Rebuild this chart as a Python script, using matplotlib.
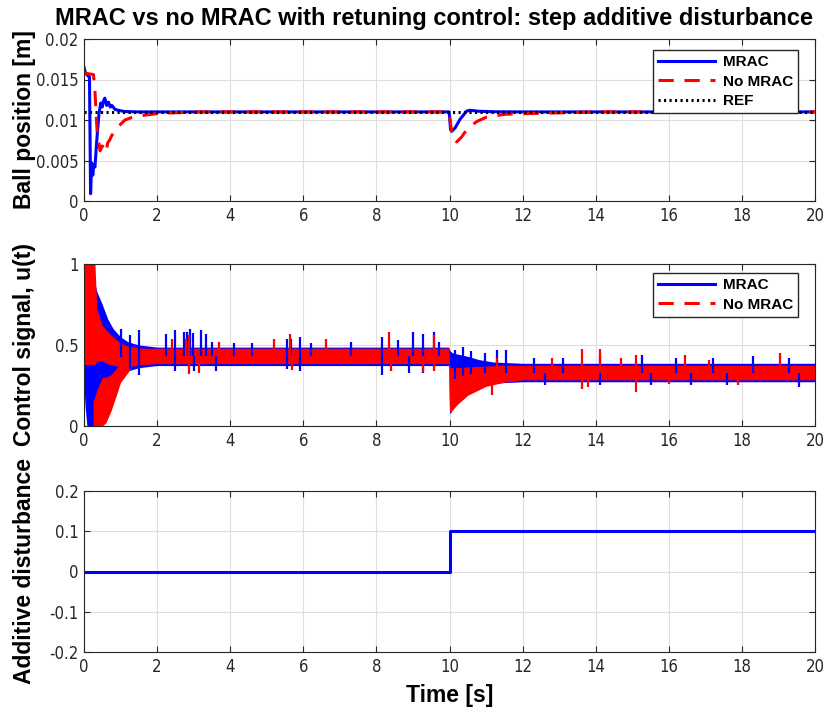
import numpy as np
import matplotlib
matplotlib.use('Agg')
import matplotlib.pyplot as plt
from matplotlib.lines import Line2D
from matplotlib import font_manager
from matplotlib.font_manager import FontProperties

# --- fonts: Arial-like for labels, a condensed face for tick numbers if we have one
installed = {f.name for f in font_manager.fontManager.ttflist}
BOLD_FAMILY = 'Liberation Sans' if 'Liberation Sans' in installed else 'DejaVu Sans'
plt.rcParams['font.family'] = [BOLD_FAMILY, 'DejaVu Sans']

narrow_files = [f.fname for f in font_manager.fontManager.ttflist
                if 'LiberationSansNarrow-Regular' in f.fname]
if not narrow_files:
    narrow_files = [f.fname for f in font_manager.fontManager.ttflist
                    if f.fname.endswith('DejaVuSansCondensed.ttf')]
TICK_FONT = (FontProperties(fname=narrow_files[0], size=12) if narrow_files
             else FontProperties(family=BOLD_FAMILY, size=11.5))

BLUE = '#0000ff'
RED = '#ff0000'
INK = '#262626'
GRID = '#dedede'

# ---------------- data: ball position [m]
t_pos_mrac = [0, 0.04, 0.12, 0.15, 0.18, 0.21, 0.24, 0.27, 0.3, 0.35, 0.41, 0.46, 0.5, 0.53,
              0.57, 0.62, 0.67, 0.72, 0.76, 0.85, 0.94, 1.1, 1.5, 9.99, 10.03, 10.06, 10.15,
              10.29, 10.47, 10.56, 10.8, 11.2, 12.0, 20.0]
pos_mrac = [0.0165, 0.0158, 0.0154, 0.0153, 0.0009, 0.0047, 0.0032, 0.0045, 0.0042, 0.0075,
            0.0108, 0.0121, 0.0116, 0.0123, 0.0127, 0.0118, 0.0122, 0.0116, 0.0118, 0.0113,
            0.0112, 0.01105, 0.011, 0.011, 0.0088, 0.0086, 0.009, 0.0101, 0.0111, 0.0112,
            0.01108, 0.01102, 0.011, 0.011]

t_pos_nomrac = [0, 0.26, 0.3, 0.36, 0.44, 0.5, 0.55, 0.6, 0.65, 0.7, 0.76, 0.85, 0.94, 1.12,
                1.3, 1.67, 2.03, 2.5, 3.2, 9.99, 10.08, 10.2, 10.33, 10.47, 10.74, 11.0, 11.5,
                12.2, 13.1, 14.0, 20.0]
pos_nomrac = [0.0158, 0.0156, 0.0135, 0.0085, 0.0062, 0.0068, 0.0063, 0.006, 0.0072, 0.0075,
              0.0081, 0.0086, 0.0092, 0.01, 0.0103, 0.0106, 0.0108, 0.0109, 0.011, 0.011,
              0.0077, 0.0073, 0.0079, 0.0088, 0.0098, 0.01033, 0.0107, 0.0108, 0.0109, 0.011,
              0.011]

t_ref = [0, 20]
pos_ref = [0.011, 0.011]

# ---------------- data: control signal u(t), dense noisy band read as envelopes
t_band_mrac = [0, 0.03, 0.08, 0.15, 0.3, 0.35, 0.5, 0.65, 0.8, 1.0, 1.2, 1.5, 2.0, 9.98,
               10.0, 10.03, 10.1, 10.3, 10.5, 10.8, 11.2, 12.0, 20.0]
lo_mrac = [0.25, 0.12, 0.0, 0.0, 0.0, 0.0, 0.07, 0.15, 0.25, 0.3, 0.34, 0.36, 0.373, 0.373,
           0.08, 0.08, 0.12, 0.17, 0.21, 0.24, 0.265, 0.273, 0.273]
hi_mrac = [0.45, 0.6, 0.85, 0.9, 0.88, 0.83, 0.75, 0.66, 0.6, 0.55, 0.52, 0.5, 0.487, 0.487,
           0.47, 0.46, 0.45, 0.44, 0.43, 0.41, 0.395, 0.387, 0.387]

t_band_nomrac = [0, 0.3, 0.35, 0.5, 0.7, 0.9, 1.1, 1.3, 1.6, 2.0, 9.98, 10.0, 10.05, 10.2,
                 10.5, 11.0, 11.5, 12.0, 20.0]
lo_nomrac = [0.38, 0.38, 0.4, 0.4, 0.38, 0.37, 0.36, 0.37, 0.38, 0.385, 0.385, 0.09, 0.09,
             0.13, 0.19, 0.245, 0.27, 0.285, 0.285]
hi_nomrac = [1.0, 1.0, 0.72, 0.62, 0.57, 0.53, 0.5, 0.49, 0.48, 0.48, 0.48, 0.37, 0.36, 0.36,
             0.365, 0.37, 0.375, 0.375, 0.375]

# lower lobe of the No MRAC start-up oscillation
t_lobe_nomrac = [0.25, 0.35, 0.5, 0.6, 0.75, 0.9, 1.0, 1.2, 1.3]
lo_lobe_nomrac = [0.0, 0.0, 0.0, 0.02, 0.1, 0.2, 0.27, 0.33, 0.36]
hi_lobe_nomrac = [0.15, 0.22, 0.3, 0.3, 0.32, 0.36, 0.38, 0.4, 0.41]

# isolated spikes sticking out of the band
spk_up_mrac_t = [1.0, 1.26, 1.5, 2.25, 2.5, 2.74, 2.81, 2.9, 2.97, 3.21, 3.35, 3.5, 4.1, 4.6,
                 5.56, 5.66, 5.91, 6.2, 7.3, 8.15, 8.6, 8.99, 9.28, 9.58, 9.7, 10.15, 10.38,
                 10.59, 10.97, 11.31, 11.55, 12.3, 13.1, 14.12, 15.26, 16.2, 17.2, 18.3, 19.3]
spk_up_mrac_v = [0.6, 0.56, 0.59, 0.57, 0.59, 0.58, 0.58, 0.6, 0.575, 0.59, 0.565, 0.52, 0.51,
                 0.51, 0.54, 0.54, 0.55, 0.51, 0.52, 0.55, 0.53, 0.58, 0.57, 0.58, 0.52, 0.47,
                 0.49, 0.46, 0.45, 0.47, 0.47, 0.42, 0.42, 0.44, 0.44, 0.42, 0.42, 0.43, 0.42]
spk_dn_mrac_t = [1.26, 1.5, 2.5, 3.0, 3.6, 5.56, 5.91, 8.16, 8.9, 9.27, 12.6, 14.12, 15.5,
                 16.6, 17.6, 19.57]
spk_dn_mrac_v = [0.35, 0.315, 0.34, 0.34, 0.34, 0.35, 0.34, 0.317, 0.33, 0.33, 0.25, 0.253,
                 0.25, 0.25, 0.255, 0.243]

spk_up_nomrac_t = [2.4, 2.78, 2.88, 3.7, 5.21, 5.64, 6.63, 8.35, 9.58, 11.3, 12.8, 13.62,
                   14.12, 14.7, 15.1, 16.44, 17.1, 19.04]
spk_up_nomrac_v = [0.54, 0.54, 0.56, 0.52, 0.54, 0.57, 0.54, 0.58, 0.56, 0.42, 0.42, 0.475,
                   0.475, 0.42, 0.44, 0.44, 0.41, 0.45]
spk_dn_nomrac_t = [2.88, 3.15, 5.7, 8.4, 9.27, 9.58, 11.15, 13.62, 13.8, 15.1, 16.0, 17.9]
spk_dn_nomrac_v = [0.32, 0.325, 0.345, 0.34, 0.335, 0.34, 0.19, 0.23, 0.24, 0.21, 0.26, 0.25]

# ---------------- data: disturbance step
t_dist = [0, 10, 20]
dist = [0, 0.1, 0.1]

x_ticks = list(range(0, 21, 2))

fig = plt.figure(figsize=(8.26, 7.09), dpi=100)
L, W = 84 / 826, 731 / 826
ax1 = fig.add_axes([L, 1 - 201 / 709, W, 162 / 709])
ax2 = fig.add_axes([L, 1 - 426 / 709, W, 162 / 709])
ax3 = fig.add_axes([L, 1 - 652 / 709, W, 161 / 709])


def style(ax, yticks, ylabels):
    ax.set_xlim(0, 20)
    ax.set_xticks(x_ticks)
    ax.set_xticklabels([str(v) for v in x_ticks])
    ax.set_yticks(yticks)
    ax.set_yticklabels(ylabels)
    ax.set_ylim(yticks[0], yticks[-1])
    ax.grid(True, color=GRID, lw=0.8)
    ax.set_axisbelow(True)
    for s in ax.spines.values():
        s.set_color(INK)
        s.set_linewidth(0.8)
    ax.tick_params(direction='in', top=True, right=True, length=4, width=0.8,
                   color=INK, labelcolor=INK, pad=4)
    for lab in ax.get_xticklabels() + ax.get_yticklabels():
        lab.set_fontproperties(TICK_FONT)
    ax.yaxis.set_label_coords(-0.066, 0.5)


lab_kw = dict(fontsize=16.5, fontweight='bold')
leg_kw = dict(loc='upper right', borderaxespad=0, fancybox=False, framealpha=1,
              edgecolor=INK, handlelength=3.7, handletextpad=0.5, labelspacing=0.35,
              borderpad=0.35, prop={'weight': 'bold', 'size': 11})
DASH = (5, 3.5)

# ---- top: ball position
ax1.plot(t_pos_mrac, pos_mrac, color=BLUE, lw=2.2, label='MRAC')
ax1.plot(t_pos_nomrac, pos_nomrac, color=RED, lw=2.2, dashes=DASH, label='No MRAC')
ax1.plot(t_ref, pos_ref, color='black', lw=2.2, dashes=(0.7, 1.1), label='REF')
style(ax1, [0, 0.005, 0.01, 0.015, 0.02], ['0', '0.005', '0.01', '0.015', '0.02'])
ax1.set_ylabel('Ball position [m]', **lab_kw)
ax1.set_title('MRAC vs no MRAC with retuning control: step additive disturbance',
              fontsize=17, fontweight='bold', x=0.479, pad=10)
ax1.legend(bbox_to_anchor=(0.977, 0.932), **leg_kw)

# ---- middle: control signal
ax2.fill_between(t_band_mrac, lo_mrac, hi_mrac, color=BLUE, lw=0)
mid_mrac = (np.array(lo_mrac) + np.array(hi_mrac)) / 2
ax2.vlines(spk_up_mrac_t, np.interp(spk_up_mrac_t, t_band_mrac, mid_mrac), spk_up_mrac_v,
           color=BLUE, lw=1.6)
ax2.vlines(spk_dn_mrac_t, spk_dn_mrac_v, np.interp(spk_dn_mrac_t, t_band_mrac, mid_mrac),
           color=BLUE, lw=1.6)
ax2.fill_between(t_band_nomrac, lo_nomrac, hi_nomrac, color=RED, lw=0)
ax2.fill_between(t_lobe_nomrac, lo_lobe_nomrac, hi_lobe_nomrac, color=RED, lw=0)
mid_nomrac = (np.array(lo_nomrac) + np.array(hi_nomrac)) / 2
ax2.vlines(spk_up_nomrac_t, np.interp(spk_up_nomrac_t, t_band_nomrac, mid_nomrac),
           spk_up_nomrac_v, color=RED, lw=1.6)
ax2.vlines(spk_dn_nomrac_t, spk_dn_nomrac_v,
           np.interp(spk_dn_nomrac_t, t_band_nomrac, mid_nomrac), color=RED, lw=1.6)
style(ax2, [0, 0.5, 1], ['0', '0.5', '1'])
ax2.set_ylabel('Control signal, u(t)', **lab_kw)
handles = [Line2D([], [], color=BLUE, lw=2.2), Line2D([], [], color=RED, lw=2.2, dashes=DASH)]
ax2.legend(handles, ['MRAC', 'No MRAC'], bbox_to_anchor=(0.977, 0.944), **leg_kw)

# ---- bottom: disturbance
ax3.step(t_dist, dist, where='post', color=BLUE, lw=2.2)
style(ax3, [-0.2, -0.1, 0, 0.1, 0.2], ['-0.2', '-0.1', '0', '0.1', '0.2'])
ax3.set_ylabel('Additive disturbance', **lab_kw)
ax3.set_xlabel('Time [s]', labelpad=6, **lab_kw)

fig.savefig('out.png', dpi=100, facecolor='white')
